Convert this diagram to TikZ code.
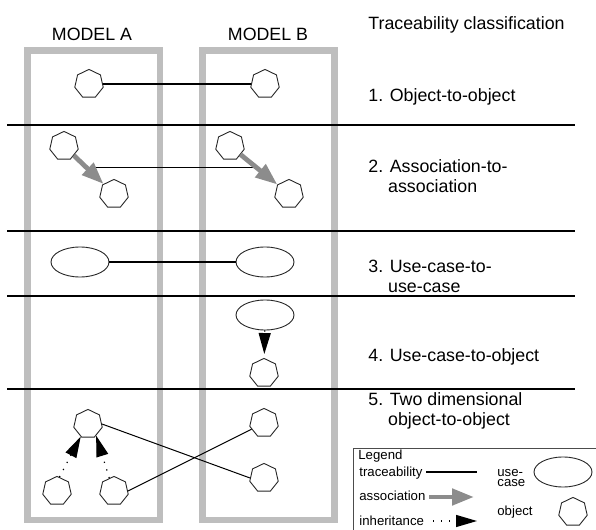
\documentclass[tikz,border=0pt]{standalone}
\usepackage{fontspec}
\setmainfont{Liberation Sans}
\usetikzlibrary{shapes.geometric,arrows.meta,calc}
\definecolor{colgray}{RGB}{190,190,190}
\definecolor{assocgray}{RGB}{140,140,140}
\begin{document}
\begin{tikzpicture}[x=0.5pt,y=-0.5pt,
 obj/.style={draw=black!85, line width=0.45pt, regular polygon, regular polygon sides=7, minimum size=14.6pt, inner sep=0pt, fill=white},
 uc/.style={draw=black!85, line width=0.45pt, ellipse, minimum width=29pt, minimum height=15pt, inner sep=0pt, fill=white},
 column/.style={draw=colgray, line width=3.2pt},
 sepline/.style={draw=black, line width=1.1pt},
 trace/.style={draw=black, line width=0.6pt},
 assoc/.style={draw=assocgray, line width=2.4pt, -{Triangle[length=11pt,width=8pt]}},
 inh/.style={draw=black, line width=0.6pt, dash pattern=on 0.6pt off 3.4pt, -{Triangle[length=10.5pt,width=6pt]}},
 lbl/.style={anchor=base west, inner sep=0pt, font=\fontsize{8.9}{10}\selectfont},
 hdr/.style={anchor=base, inner sep=0pt, font=\fontsize{8.9}{10}\selectfont},
 leg/.style={anchor=base west, inner sep=0pt, font=\fontsize{6.6}{5.4}\selectfont},
]
\useasboundingbox (0,0) rectangle (596,530);

% model columns
\draw[column] (27.5,50.5) rectangle (160,520);
\draw[column] (202.5,50.5) rectangle (334.5,520);

% separators
\draw[sepline] (7,125) -- (575,125);
\draw[sepline] (7,231) -- (575,231);
\draw[sepline] (7,296) -- (575,296);
\draw[sepline] (7,389) -- (575,389);

% headers
\node[hdr] (ma) at (92,40) {MODEL A};
\node[hdr] (mb) at (268,40) {MODEL B};
\node[lbl] (title) at (368,30) {Traceability classification};
\node[lbl] (k1) at (368,101) {1. Object-to-object};
\node[lbl] (k2) at (368,172.5) {\begin{tabular}[t]{@{}l@{}}2. Association-to-\\\hphantom{2.\ }association\end{tabular}};
\node[lbl] (k3) at (368,272) {\begin{tabular}[t]{@{}l@{}}3. Use-case-to-\\\hphantom{3.\ }use-case\end{tabular}};
\node[lbl] (k4) at (368,361.5) {4. Use-case-to-object};
\node[lbl] (k5) at (368,405) {\begin{tabular}[t]{@{}l@{}}5. Two dimensional\\\hphantom{5.\ }object-to-object\end{tabular}};

% row 1
\node[obj] (o1a) at (89,84) {};
\node[obj] (o1b) at (265,84) {};
\draw[trace] (o1a) -- (o1b);

% row 2
\node[obj] (o2a1) at (64,146) {};
\node[obj] (o2a2) at (114,194) {};
\node[obj] (o2b1) at (230,146) {};
\node[obj] (o2b2) at (289,194) {};
\coordinate (m2a) at ($(o2a1)!0.5!(o2a2)$);
\coordinate (m2b) at ($(o2b1)!0.5!(o2b2)$);
\draw[trace, line width=0.5pt] ([yshift=1.5pt]m2a) -- ([yshift=1.5pt]m2b);
\draw[assoc] (o2a1) -- (o2a2);
\draw[assoc] (o2b1) -- (o2b2);

% row 3
\node[uc] (u3a) at (80,262) {};
\node[uc] (u3b) at (265,262) {};
\draw[trace] (u3a) -- (u3b);

% row 4
\node[uc] (u4b) at (265,315) {};
\node[obj] (o4b) at (264,373) {};
\draw[inh, shorten >=2pt] (u4b) -- (o4b);

% row 5
\node[obj] (p5) at (88,424) {};
\node[obj] (c5a) at (57,491) {};
\node[obj] (c5b) at (114,491) {};
\node[obj] (b5a) at (264,423) {};
\node[obj] (b5b) at (264,478) {};
\draw[inh] (c5a.80) -- (p5.-120);
\draw[inh] (c5b.110) -- (p5.-55);
\draw[trace, line width=0.5pt] (p5.east) -- (b5b.west);
\draw[trace, line width=0.5pt] (c5b.east) -- (b5a);

% legend
\draw[draw=black!70, line width=0.5pt] (353,530) -- (353,448) -- (596,448);
\node[leg] (lg) at (358,459) {Legend};
\node[leg] (lt) at (359,476) {traceability};
\coordinate (lt1) at (426,472);
\coordinate (lt2) at (477,472);
\draw[trace] (lt1) -- (lt2);
\node[leg] (la) at (359,500) {association};
\coordinate (la1) at (429,497);
\coordinate (la2) at (474,497);
\draw[assoc] (la1) -- (la2);
\node[leg] (li) at (359,525) {inheritance};
\coordinate (li1) at (433,521);
\coordinate (li2) at (477,521);
\draw[inh] (li1) -- (li2);
\node[leg] (luc) at (497,476) {\begin{tabular}[t]{@{}l@{}}use-\\case\end{tabular}};
\node[uc] (lu) at (563,472) {};
\node[leg] (lob) at (497,515) {object};
\node[obj] (lo) at (573,512) {};
\end{tikzpicture}
\end{document}
